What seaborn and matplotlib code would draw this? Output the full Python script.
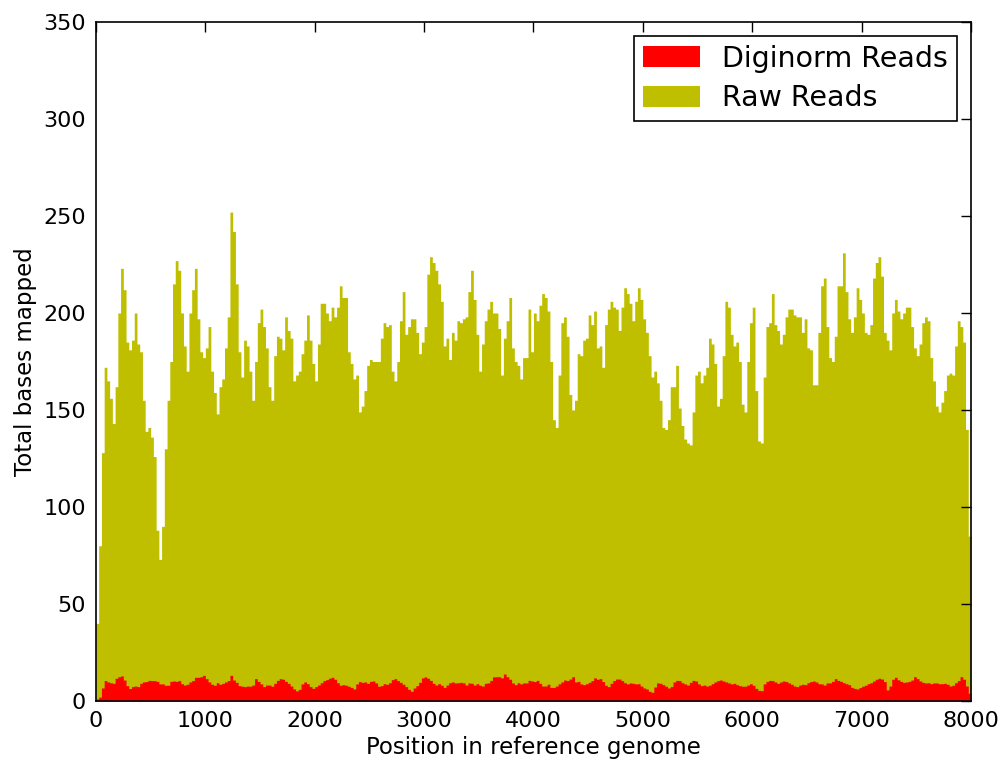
import numpy as np
import pandas as pd
import matplotlib
matplotlib.use("Agg")
import matplotlib.pyplot as plt
import seaborn as sns
from matplotlib.patches import Patch

# coverage in 25 bp bins
bin_size = 25
raw_reads = [
    40, 80, 128, 172, 165, 156, 143, 162, 200, 223,
    212, 185, 181, 186, 200, 184, 180, 155, 139, 141,
    136, 126, 88, 73, 90, 130, 155, 175, 215, 227,
    222, 200, 183, 170, 200, 212, 223, 197, 180, 177,
    182, 193, 170, 159, 148, 162, 166, 182, 198, 252,
    242, 215, 180, 167, 186, 183, 170, 155, 175, 195,
    202, 193, 182, 162, 155, 178, 188, 187, 181, 198,
    191, 187, 165, 168, 170, 179, 186, 199, 186, 174,
    165, 184, 205, 205, 200, 196, 203, 198, 203, 214,
    208, 208, 180, 174, 166, 168, 149, 152, 160, 173,
    176, 175, 175, 175, 187, 195, 193, 194, 170, 165,
    175, 196, 211, 189, 193, 197, 197, 190, 179, 185,
    193, 220, 229, 226, 222, 215, 206, 183, 187, 176,
    190, 186, 196, 195, 197, 198, 211, 222, 207, 189,
    170, 184, 196, 202, 206, 200, 200, 192, 168, 187,
    196, 208, 182, 175, 173, 166, 177, 177, 202, 180,
    200, 196, 204, 210, 208, 201, 175, 145, 141, 168,
    195, 198, 188, 158, 150, 155, 179, 178, 186, 187,
    199, 194, 201, 182, 183, 172, 194, 202, 206, 203,
    202, 191, 203, 213, 210, 205, 196, 206, 213, 207,
    197, 190, 178, 167, 170, 164, 155, 141, 140, 145,
    162, 162, 173, 151, 142, 135, 133, 132, 149, 168,
    170, 164, 168, 172, 187, 184, 174, 152, 156, 178,
    206, 203, 189, 183, 185, 175, 153, 149, 175, 195,
    203, 160, 134, 133, 167, 193, 195, 210, 194, 191,
    184, 189, 198, 202, 202, 199, 198, 198, 190, 197,
    182, 181, 163, 163, 190, 214, 218, 193, 177, 175,
    188, 214, 214, 231, 211, 197, 190, 198, 213, 207,
    200, 190, 189, 194, 218, 226, 229, 219, 190, 186,
    181, 200, 207, 201, 197, 200, 203, 203, 193, 182,
    178, 184, 195, 198, 196, 177, 165, 152, 149, 154,
    160, 168, 169, 168, 183, 196, 193, 185, 140, 85,
]
diginorm_reads = [
    1, 2, 6.7, 10.5, 9.8, 9.4, 9.1, 11.7, 12.5, 12.9,
    10.8, 7.9, 6.4, 7.4, 7.7, 7.4, 9.1, 9.8, 10.0, 10.6,
    10.5, 10.5, 10.1, 8.8, 8.8, 8.1, 8.1, 10.1, 10.3, 10.1,
    10.5, 8.9, 8.2, 8.6, 9.8, 10.5, 12.2, 12.2, 12.5, 13.2,
    11.5, 9.8, 8.6, 8.1, 9.4, 8.6, 9.1, 9.8, 10.5, 13.2,
    10.8, 9.6, 7.9, 7.6, 7.4, 7.7, 7.6, 8.2, 11.5, 10.1,
    8.8, 7.4, 8.2, 8.2, 7.6, 9.1, 10.6, 11.5, 11.2, 10.1,
    9.1, 7.7, 6.2, 5.2, 6.0, 8.8, 9.8, 8.9, 7.4, 6.5,
    7.4, 8.2, 9.4, 10.5, 11.0, 11.7, 12.2, 11.2, 9.4, 8.1,
    8.4, 8.1, 7.6, 7.0, 6.2, 8.8, 10.0, 9.6, 9.8, 9.1,
    10.1, 10.3, 9.3, 7.6, 7.9, 8.9, 8.6, 9.4, 11.0, 11.5,
    10.5, 9.6, 8.6, 7.4, 6.0, 5.0, 6.7, 7.9, 9.6, 11.9,
    12.4, 11.7, 10.6, 9.1, 8.2, 8.9, 8.1, 7.0, 8.2, 9.4,
    9.8, 9.3, 9.4, 9.6, 9.3, 8.2, 9.3, 9.1, 8.2, 8.9,
    8.1, 7.7, 9.1, 9.3, 10.6, 12.4, 12.5, 12.5, 11.9, 13.9,
    12.5, 11.2, 9.3, 8.4, 9.4, 8.8, 9.3, 9.3, 10.6, 10.3,
    10.0, 10.6, 9.1, 7.7, 7.7, 8.6, 7.0, 7.0, 7.7, 8.8,
    9.8, 10.8, 10.5, 11.3, 12.5, 9.8, 10.1, 8.8, 8.4, 8.9,
    9.6, 10.5, 11.9, 11.2, 11.5, 10.0, 8.1, 7.4, 9.1, 10.5,
    11.3, 11.3, 10.5, 9.4, 8.8, 9.3, 9.1, 8.8, 8.9, 7.7,
    6.7, 6.2, 5.0, 4.5, 7.2, 9.3, 9.1, 8.4, 7.6, 6.7,
    7.4, 9.8, 10.6, 10.5, 9.4, 8.8, 8.2, 9.6, 10.6, 10.3,
    8.8, 7.9, 8.2, 7.7, 8.1, 8.9, 9.8, 10.5, 10.8, 10.3,
    9.8, 9.3, 8.8, 9.1, 8.4, 7.9, 7.6, 7.6, 8.2, 8.9,
    8.1, 6.5, 5.5, 5.3, 8.8, 10.1, 10.6, 10.5, 9.8, 9.1,
    9.8, 10.3, 10.0, 9.3, 8.6, 7.7, 7.4, 8.2, 8.6, 8.4,
    9.4, 10.0, 10.3, 9.8, 8.9, 8.8, 8.2, 9.3, 9.3, 10.1,
    11.5, 10.6, 10.1, 9.4, 8.9, 8.4, 7.0, 6.5, 6.2, 6.9,
    7.6, 8.1, 8.9, 9.4, 10.3, 11.2, 11.7, 11.3, 10.0, 5.7,
    7.7, 11.2, 12.2, 10.9, 10.1, 9.6, 9.8, 10.1, 10.8, 12.5,
    11.5, 10.3, 9.6, 9.3, 9.4, 8.9, 9.3, 9.3, 8.9, 8.9,
    9.1, 8.6, 7.7, 8.1, 9.4, 10.5, 12.5, 11.2, 7.7, 4.0,
]

df = pd.DataFrame({
    "pos": np.arange(len(raw_reads)) * bin_size + bin_size / 2,
    "raw": raw_reads,
    "digi": diginorm_reads,
})
genome_len = len(raw_reads) * bin_size

raw_color = "#bfbf00"
digi_color = "#ff0000"

sns.set_style("white")
plt.rcParams["font.family"] = ["DejaVu Sans"]
plt.rcParams.update({"text.color": "black", "axes.labelcolor": "black",
                     "xtick.color": "black", "ytick.color": "black"})

fig = plt.figure(figsize=(10.08, 7.63), dpi=100)
ax = fig.add_axes([0.0952, 0.0813, 0.8681, 0.8899])

# weighted histograms = coverage per bin
for col, colr in [("raw", raw_color), ("digi", digi_color)]:
    sns.histplot(data=df, x="pos", weights=col, binwidth=bin_size,
                 binrange=(0, genome_len), element="step", fill=True,
                 color=colr, alpha=1, linewidth=0, ax=ax)

ax.set_xlim(0, 8000)
ax.set_ylim(0, 350)
ax.set_xticks(np.arange(0, 8001, 1000))
ax.set_yticks(np.arange(0, 351, 50))
ax.set_xlabel("Position in reference genome", fontsize=16.5, labelpad=4)
ax.set_ylabel("Total bases mapped", fontsize=16.5, labelpad=5)

ax.tick_params(direction="in", length=7, width=1, top=True, right=True,
               labelsize=16, pad=7, color="black", labelcolor="black")
for s in ax.spines.values():
    s.set_color("black")
    s.set_linewidth(1.2)
ax.set_axisbelow(False)

handles = [Patch(facecolor=digi_color, edgecolor="none", label="Diginorm Reads"),
           Patch(facecolor=raw_color, edgecolor="none", label="Raw Reads")]
leg = ax.legend(handles=handles, loc="upper right", fontsize=20.5,
                frameon=True, fancybox=False, framealpha=1,
                edgecolor="black", handlelength=2.0, handleheight=0.75,
                borderaxespad=0.5, labelspacing=0.4, borderpad=0.3)
leg.get_frame().set_linewidth(1.2)

fig.savefig("out.png", dpi=100)
